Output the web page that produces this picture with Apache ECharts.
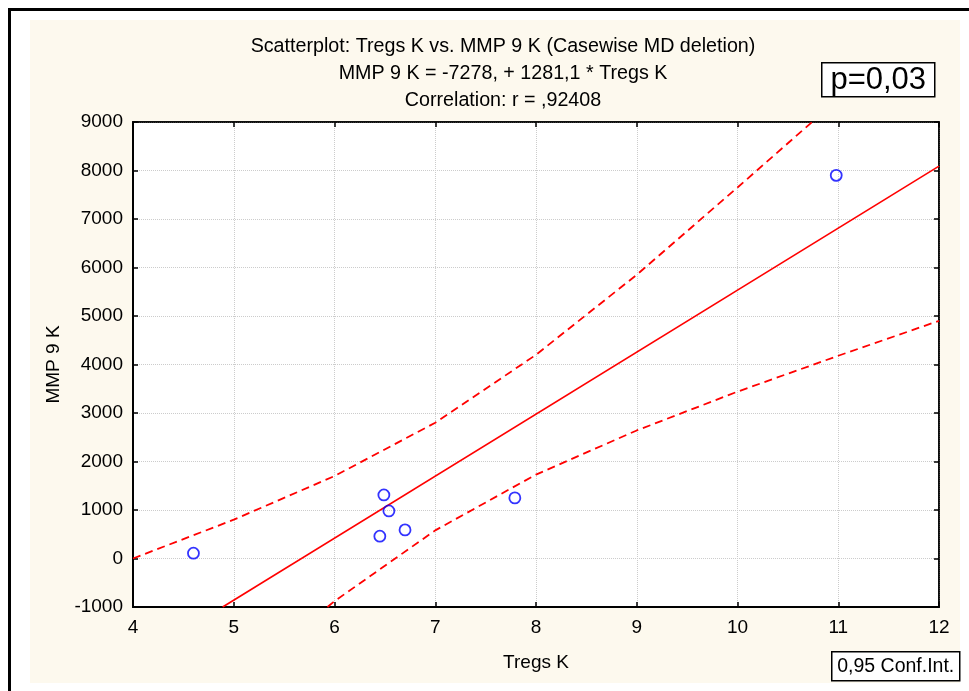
<!DOCTYPE html>
<html>
<head>
<meta charset="utf-8">
<script src="https://cdn.jsdelivr.net/npm/echarts@6/dist/echarts.min.js"></script>
<style>
    html, body { margin: 0; padding: 0; background: #fff; }
    #myChart { width: 969px; height: 691px; }
</style>
</head>
<body>
<div id="myChart"></div>
<script>
    // observed points
    var tregs = [4.6, 6.49, 6.54, 6.45, 6.70, 7.79, 10.98];
    var mmp9 = [110, 1310, 980, 460, 590, 1250, 7900];
    // regression line, read at the plot edges
    var fitX = [4.89, 12];
    var fitY = [-1000, 8090];
    // 0,95 confidence band
    var ciUpX = [4, 5, 6, 7, 8, 9, 10, 10.74];
    var ciUpY = [0, 800, 1700, 2800, 4200, 5850, 7650, 9000];
    var ciLoX = [5.93, 6, 7, 8, 9, 10, 11, 12];
    var ciLoY = [-1000, -880, 580, 1730, 2640, 3440, 4180, 4900];
    var titleLines = [
        'Scatterplot: Tregs K vs. MMP 9 K (Casewise MD deletion)',
        'MMP 9 K = -7278, + 1281,1 * Tregs K',
        'Correlation: r = ,92408'
    ];

    function pairs(xs, ys) {
        var out = [];
        for (var i = 0; i < xs.length; i++) {
            out.push([xs[i], ys[i]]);
        }
        return out;
    }

    var font = '"Liberation Sans", Arial, sans-serif';
    var dashed = {color: '#ff0000', width: 1.8, type: [8, 5]};

    var myChart = echarts.init(document.getElementById('myChart'));
    myChart.setOption({
        animation: false,
        backgroundColor: '#fff',
        textStyle: {fontFamily: font, color: '#000'},
        title: {
            text: titleLines.join('\n'),
            left: 498,
            top: 28,
            textAlign: 'center',
            textStyle: {fontSize: 19.7, fontWeight: 'normal', lineHeight: 27, color: '#000'}
        },
        graphic: [
            // cream panel and the outer frame lines
            {type: 'rect', z: -10, silent: true, shape: {x: 30, y: 20, width: 930, height: 663}, style: {fill: '#fdf9ee'}},
            {type: 'line', z: -5, shape: {x1: 9, y1: 9.5, x2: 969, y2: 9.5}, style: {stroke: '#000', lineWidth: 3}},
            {type: 'line', z: -5, shape: {x1: 9.5, y1: 8, x2: 9.5, y2: 691}, style: {stroke: '#000', lineWidth: 3}},
            {
                type: 'group', left: 821, top: 62,
                children: [
                    {type: 'rect', shape: {x: 0, y: 0, width: 113, height: 34}, style: {fill: '#fff', stroke: '#000', lineWidth: 1.5}},
                    {type: 'text', style: {x: 56.5, y: 18, text: 'p=0,03', align: 'center', verticalAlign: 'middle', font: '31px ' + font, fill: '#000'}}
                ]
            },
            {
                type: 'group', left: 831, top: 651,
                children: [
                    {type: 'rect', shape: {x: 0, y: 0, width: 128, height: 29}, style: {fill: '#fff', stroke: '#000', lineWidth: 1.5}},
                    {type: 'text', style: {x: 64, y: 15, text: '0,95 Conf.Int.', align: 'center', verticalAlign: 'middle', font: '19.5px ' + font, fill: '#000'}}
                ]
            }
        ],
        grid: {
            left: 133, top: 122, width: 806, height: 485,
            show: true, backgroundColor: '#fff', borderColor: '#000', borderWidth: 1.5
        },
        xAxis: [{
            type: 'value', min: 4, max: 12, interval: 1,
            name: 'Tregs K', nameLocation: 'middle', nameGap: 46,
            nameTextStyle: {fontSize: 19, color: '#000'},
            axisLine: {show: true, onZero: false, lineStyle: {color: '#000', width: 2}},
            axisTick: {show: true, inside: true, length: 5, lineStyle: {color: '#000', width: 1.5}},
            axisLabel: {fontSize: 19, color: '#000', margin: 11},
            splitLine: {show: true, lineStyle: {color: '#cccccc', type: 'dotted', width: 1}}
        }, {
            type: 'value', min: 4, max: 12, interval: 1, position: 'top',
            axisLine: {show: true, onZero: false, lineStyle: {color: '#000', width: 1.5}},
            axisTick: {show: true, inside: true, length: 5, lineStyle: {color: '#000', width: 1.5}},
            axisLabel: {show: false},
            splitLine: {show: false}
        }],
        yAxis: [{
            type: 'value', min: -1000, max: 9000, interval: 1000,
            name: 'MMP 9 K', nameLocation: 'middle', nameGap: 68, nameRotate: 90,
            nameTextStyle: {fontSize: 19, color: '#000'},
            axisLine: {show: true, onZero: false, lineStyle: {color: '#000', width: 2}},
            axisTick: {show: true, inside: true, length: 5, lineStyle: {color: '#000', width: 1.5}},
            axisLabel: {fontSize: 19, color: '#000', margin: 10, formatter: function (v) { return String(v); }},
            splitLine: {show: true, lineStyle: {color: '#cccccc', type: 'dotted', width: 1}}
        }, {
            type: 'value', min: -1000, max: 9000, interval: 1000, position: 'right',
            axisLine: {show: true, onZero: false, lineStyle: {color: '#000', width: 1.5}},
            axisTick: {show: true, inside: true, length: 5, lineStyle: {color: '#000', width: 1.5}},
            axisLabel: {show: false},
            splitLine: {show: false}
        }],
        series: [{
            type: 'line',
            data: pairs(ciUpX, ciUpY),
            symbol: 'none',
            clip: true,
            lineStyle: dashed,
            z: 3
        }, {
            type: 'line',
            data: pairs(ciLoX, ciLoY),
            symbol: 'none',
            clip: true,
            lineStyle: dashed,
            z: 3
        }, {
            type: 'line',
            data: pairs(fitX, fitY),
            symbol: 'none',
            clip: true,
            lineStyle: {color: '#ff0000', width: 1.6},
            z: 4
        }, {
            type: 'scatter',
            data: pairs(tregs, mmp9),
            symbol: 'circle',
            symbolSize: 11,
            itemStyle: {color: 'rgba(0,0,0,0)', borderColor: '#0000ff', borderWidth: 1.8},
            z: 5
        }]
    });
</script>
</body>
</html>
